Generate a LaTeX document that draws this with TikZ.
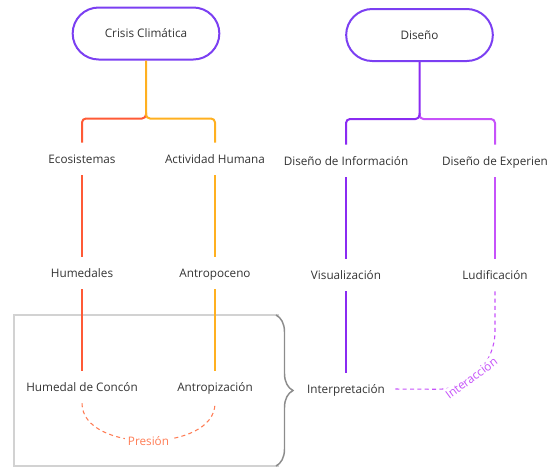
\documentclass[tikz,border=0pt]{standalone}
\usepackage{fontspec}
\setmainfont{Open Sans}
\usetikzlibrary{decorations.pathreplacing}

\definecolor{violeta}{HTML}{7B3FF2}
\definecolor{rojizo}{HTML}{FF5A36}
\definecolor{ambar}{HTML}{FFB020}
\definecolor{morado}{HTML}{8A2BF2}
\definecolor{lila}{HTML}{C652FA}
\definecolor{coral}{HTML}{FF7D55}
\definecolor{texto}{HTML}{333333}

\begin{document}
\begin{tikzpicture}[x=0.75pt, y=-0.75pt,
		every node/.style={font=\fontsize{8.8}{10}\selectfont, text=texto},
		raiz/.style={draw=violeta, line width=1.5pt, rounded corners=19.5pt, minimum width=110pt, minimum height=39pt},
		tema/.style={minimum height=24pt, inner xsep=3pt, text height=1.55ex, text depth=.3ex},
		rama/.style={line width=1.5pt, rounded corners=3pt},
		enlace/.style={line width=0.8pt, dash pattern=on 3pt off 2.5pt}]
		\useasboundingbox (0,0) rectangle (550,468);

		% Grupo
		\draw[gray!35, line width=1.1pt] (279,315) -- (14,315) -- (14,466) -- (279,466);
		\draw[gray!90, line width=1.1pt, decorate, decoration={brace, amplitude=12.75pt}] (276,315) -- (276,466);

		% Raices
		\node[raiz] (crisis) at (146,33.5) {Crisis Climática};
		\node[raiz] (diseno) at (419.5,35) {Diseño};

		% Nodes
		\foreach \n/\x/\y/\t in {eco/82/159/Ecosistemas, act/215/159/Actividad Humana,
				hum/82/273/Humedales, antro/215/273/Antropoceno,
				concon/82/387/Humedal de Concón, antrop/215/387/Antropización,
				info/346/161/Diseño de Información, exp/495/161/Diseño de Experien,
				visu/346/275/Visualización, ludi/495/275/Ludificación,
				interp/346/389/Interpretación}
			{
				\node[tema] (\n) at (\x,\y) {\t};
			}

		% Edges
		\draw[rama, rojizo] (crisis.south) ++(0,52) -- ++(0,6) -| (eco.north);
		\draw[rama, ambar] (crisis.south) -- ++(0,58) -| (act.north);
		\draw[rama, lila] (diseno.south) ++(0,51) -- ++(0,6) -| (exp.north);
		\draw[rama, morado] (diseno.south) -- ++(0,57) -| (info.north);

		\foreach \a/\b/\c in {eco/hum/rojizo, hum/concon/rojizo,
				act/antro/ambar, antro/antrop/ambar,
				info/visu/morado, visu/interp/morado, exp/ludi/lila}
		\draw[rama, \c] (\a) -- (\b);

		% Relaciones
		\draw[enlace, coral] (concon.south) .. controls +(0,50) and +(0,50) ..
			node[fill=white, text=coral, inner sep=2pt] {Presión} (antrop.south);
		\draw[enlace, lila] (ludi.south) -- ++(0,40) .. controls +(0,32) and +(32,0) ..
			node[pos=0.6, sloped, fill=white, text=lila, inner sep=1pt] {Interacción} ++(-58,58) -- ([xshift=3pt]interp.east);
	\end{tikzpicture}
\end{document}
